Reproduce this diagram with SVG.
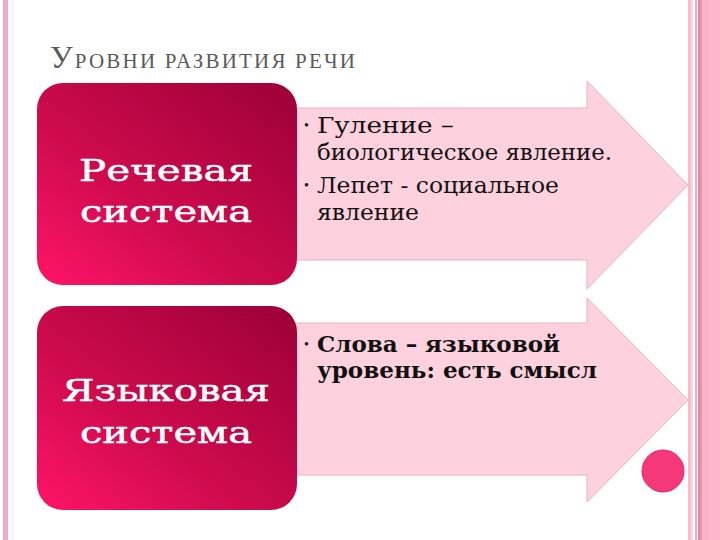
<svg xmlns="http://www.w3.org/2000/svg" width="720" height="540" viewBox="0 0 720 540">
  <defs>
    <linearGradient id="redGrad" x1="0" y1="1" x2="1" y2="0">
      <stop offset="0" stop-color="#ff1468"/>
      <stop offset="0.4" stop-color="#cf0b4e"/>
      <stop offset="1" stop-color="#9c0036"/>
    </linearGradient>
    <style>
      .box { fill: url(#redGrad); }
      .boxText { font-family: "DejaVu Serif", "Liberation Serif", serif; font-size: 30px; fill: #ffffff; stroke: #ffffff; stroke-width: 0.5px; text-anchor: middle; }
      .arrow { fill: #fdd1dd; stroke: #e9b2c3; stroke-width: 1; }
      .body { font-family: "DejaVu Serif", "Liberation Serif", serif; font-size: 22px; fill: #111111; }
      .bold { font-weight: bold; }
      .bullet { font-family: "Liberation Serif", serif; font-size: 14px; fill: #111111; }
      .title { font-family: "Liberation Serif", "Times New Roman", serif; fill: #5a5a5a; }
    </style>
  </defs>

  <rect x="0" y="0" width="720" height="540" fill="#ffffff"/>

  <!-- frame stripes -->
  <g id="frame">
    <rect x="3" y="0" width="5" height="540" fill="#f4a9c1"/>
    <rect x="12" y="0" width="1" height="540" fill="#fbe2ea"/>
    <rect x="688" y="0" width="3" height="540" fill="#f7bccd"/>
    <rect x="691" y="0" width="2" height="540" fill="#fbd6e1"/>
    <rect x="695" y="0" width="2" height="540" fill="#f3aac1"/>
    <rect x="698" y="0" width="2" height="540" fill="#d98aa6"/>
    <rect x="700" y="0" width="2" height="540" fill="#e995b2"/>
    <rect x="702" y="0" width="18" height="540" fill="#fdb1c7"/>
    <rect x="708" y="0" width="12" height="540" fill="#ffb6cb"/>
  </g>

  <text class="title" x="50" y="68" textLength="305"><tspan font-size="32">У</tspan><tspan font-size="21">РОВНИ РАЗВИТИЯ РЕЧИ</tspan></text>

  <g id="connectors"></g>

  <g id="arrow-speech">
    <path class="arrow" d="M 290 108 H 587 V 81 L 688 185 L 587 289 V 260 H 290 Z"/>
    <text class="bullet" x="304" y="130">•</text>
    <text class="body" x="317" y="133" textLength="137" lengthAdjust="spacingAndGlyphs">Гуление –</text>
    <text class="body" x="317" y="160" textLength="295" lengthAdjust="spacingAndGlyphs">биологическое явление.</text>
    <text class="bullet" x="304" y="190">•</text>
    <text class="body" x="317" y="193" textLength="242" lengthAdjust="spacingAndGlyphs">Лепет - социальное</text>
    <text class="body" x="317" y="220" textLength="102" lengthAdjust="spacingAndGlyphs">явление</text>
  </g>

  <g id="arrow-language">
    <path class="arrow" d="M 290 323 H 587 V 298 L 688 400 L 587 502 V 475 H 290 Z"/>
    <text class="bullet" x="304" y="349">•</text>
    <text class="body bold" x="317" y="352" textLength="243" lengthAdjust="spacingAndGlyphs">Слова – языковой</text>
    <text class="body bold" x="317" y="378" textLength="280" lengthAdjust="spacingAndGlyphs">уровень: есть смысл</text>
  </g>

  <g id="node-speech">
    <rect class="box" x="37" y="83" width="260" height="202" rx="26" ry="26"/>
    <text class="boxText" x="166" y="181" textLength="174" lengthAdjust="spacingAndGlyphs">Речевая</text>
    <text class="boxText" x="166" y="222" textLength="172" lengthAdjust="spacingAndGlyphs">система</text>
  </g>

  <g id="node-language">
    <rect class="box" x="37" y="306" width="260" height="204" rx="26" ry="26"/>
    <text class="boxText" x="166" y="401" textLength="208" lengthAdjust="spacingAndGlyphs">Языковая</text>
    <text class="boxText" x="166" y="443" textLength="172" lengthAdjust="spacingAndGlyphs">система</text>
  </g>

  <g id="dot">
    <circle cx="663" cy="471" r="21" fill="#f5387a" stroke="#e02868" stroke-width="1"/>
  </g>
</svg>
